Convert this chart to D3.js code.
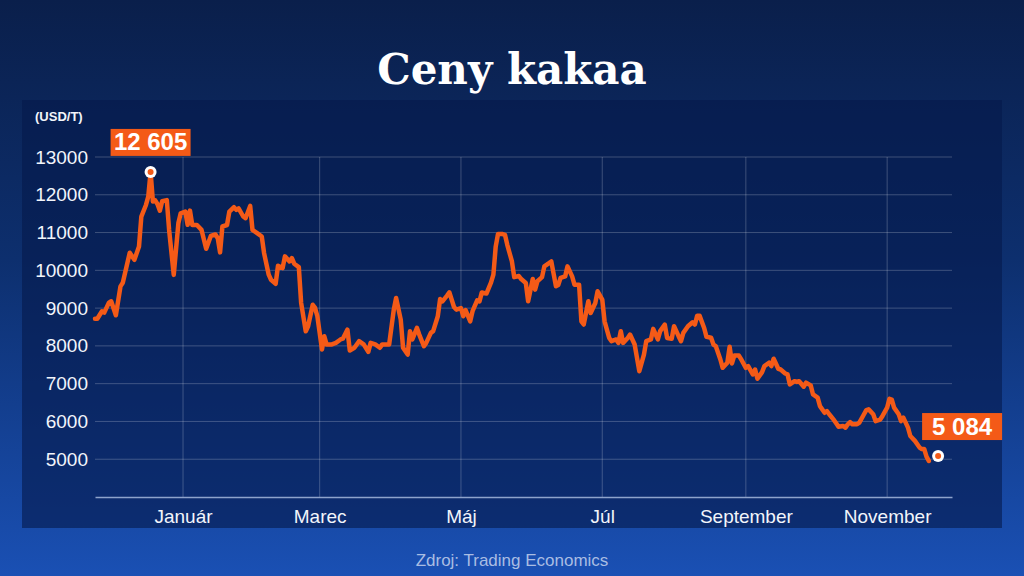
<!DOCTYPE html>
<html>
<head>
<meta charset="utf-8">
<script src="https://cdn.jsdelivr.net/npm/d3@7"></script>
<style>
  html, body { margin: 0; padding: 0; background: #0b2252; }
  svg { display: block; }
</style>
</head>
<body>
<svg id="chart" width="1024" height="576"></svg>
<script>
// cocoa price, USD per tonne
const dates = [
  "2024-11-24","2024-11-25","2024-11-27","2024-11-28","2024-11-30","2024-12-01","2024-12-03","2024-12-05","2024-12-06","2024-12-07",
  "2024-12-09","2024-12-11","2024-12-13","2024-12-14","2024-12-16","2024-12-17","2024-12-18","2024-12-19","2024-12-20","2024-12-21",
  "2024-12-22","2024-12-23","2024-12-25","2024-12-26","2024-12-28","2024-12-30","2024-12-31","2025-01-02","2025-01-03","2025-01-04",
  "2025-01-05","2025-01-07","2025-01-09","2025-01-11","2025-01-13","2025-01-15","2025-01-16","2025-01-17","2025-01-18","2025-01-20",
  "2025-01-21","2025-01-23","2025-01-24","2025-01-25","2025-01-27","2025-01-28","2025-01-30","2025-01-31","2025-02-02","2025-02-04",
  "2025-02-05","2025-02-07","2025-02-08","2025-02-10","2025-02-11","2025-02-13","2025-02-14","2025-02-16","2025-02-17","2025-02-18",
  "2025-02-20","2025-02-21","2025-02-23","2025-02-24","2025-02-26","2025-02-27","2025-02-28","2025-03-02","2025-03-03","2025-03-04",
  "2025-03-06","2025-03-08","2025-03-10","2025-03-11","2025-03-13","2025-03-14","2025-03-16","2025-03-18","2025-03-20","2025-03-22",
  "2025-03-23","2025-03-25","2025-03-27","2025-03-28","2025-03-31","2025-04-02","2025-04-03","2025-04-05","2025-04-06","2025-04-08",
  "2025-04-09","2025-04-10","2025-04-12","2025-04-13","2025-04-15","2025-04-16","2025-04-18","2025-04-19","2025-04-21","2025-04-22",
  "2025-04-23","2025-04-25","2025-04-26","2025-04-28","2025-04-29","2025-05-01","2025-05-02","2025-05-03","2025-05-05","2025-05-06",
  "2025-05-08","2025-05-09","2025-05-10","2025-05-12","2025-05-14","2025-05-15","2025-05-16","2025-05-17","2025-05-19","2025-05-20",
  "2025-05-21","2025-05-23","2025-05-24","2025-05-26","2025-05-27","2025-05-29","2025-05-30","2025-06-01","2025-06-02","2025-06-03",
  "2025-06-05","2025-06-06","2025-06-08","2025-06-09","2025-06-11","2025-06-12","2025-06-13","2025-06-15","2025-06-16","2025-06-18",
  "2025-06-19","2025-06-21","2025-06-22","2025-06-23","2025-06-25","2025-06-26","2025-06-28","2025-06-29","2025-07-01","2025-07-02",
  "2025-07-04","2025-07-05","2025-07-07","2025-07-08","2025-07-09","2025-07-10","2025-07-12","2025-07-13","2025-07-15","2025-07-16",
  "2025-07-17","2025-07-19","2025-07-20","2025-07-22","2025-07-23","2025-07-25","2025-07-26","2025-07-28","2025-07-29","2025-07-31",
  "2025-08-01","2025-08-03","2025-08-04","2025-08-05","2025-08-07","2025-08-09","2025-08-10","2025-08-11","2025-08-12","2025-08-14",
  "2025-08-15","2025-08-17","2025-08-18","2025-08-19","2025-08-21","2025-08-22","2025-08-24","2025-08-25","2025-08-26","2025-08-27",
  "2025-08-29","2025-08-30","2025-09-01","2025-09-02","2025-09-04","2025-09-05","2025-09-06","2025-09-08","2025-09-09","2025-09-11",
  "2025-09-12","2025-09-13","2025-09-15","2025-09-16","2025-09-18","2025-09-19","2025-09-20","2025-09-22","2025-09-23","2025-09-24",
  "2025-09-26","2025-09-27","2025-09-29","2025-09-30","2025-10-02","2025-10-03","2025-10-05","2025-10-06","2025-10-07","2025-10-09",
  "2025-10-10","2025-10-11","2025-10-13","2025-10-14","2025-10-15","2025-10-16","2025-10-17","2025-10-19","2025-10-20","2025-10-22",
  "2025-10-23","2025-10-24","2025-10-26","2025-10-27","2025-10-29","2025-10-30","2025-11-01","2025-11-02","2025-11-03","2025-11-04",
  "2025-11-06","2025-11-07","2025-11-08","2025-11-10","2025-11-11","2025-11-13","2025-11-15","2025-11-16","2025-11-17","2025-11-18",
  "2025-11-19"
];
const prices = [
  8720,8720,8915,8880,9145,9180,8810,9575,9670,9935,
  10465,10280,10630,11420,11730,11950,12605,11820,11850,11750,
  11580,11830,11860,11070,9880,11250,11510,11555,11205,11580,
  11200,11200,11070,10570,10910,10950,10850,10475,11160,11200,
  11555,11670,11600,11640,11425,11380,11705,11070,10985,10895,
  10455,9885,9750,9645,10120,10060,10370,10235,10325,10175,
  10085,9135,8385,8520,9090,9005,8785,7905,8255,8035,
  8035,8080,8170,8190,8430,7880,7950,8125,8040,7840,
  8080,8040,7950,8040,8035,8960,9270,8695,7950,7770,
  8385,8170,8475,8300,7990,8080,8345,8390,8785,9240,
  9180,9330,9415,9030,8960,9000,8785,8945,8650,8920,
  9205,9180,9415,9385,9680,9885,10630,10965,10960,10940,
  10675,10235,9820,9850,9770,9665,9180,9770,9490,9710,
  9820,10105,10190,10235,9580,9610,9800,9840,10105,9840,
  9620,9620,8650,8565,9180,8870,9135,9445,9225,8650,
  8210,8125,8170,8080,8390,8080,8210,8300,8035,7685,
  7330,7770,8125,8170,8450,8170,8390,8565,8210,8190,
  8520,8250,8125,8345,8520,8625,8565,8800,8800,8475,
  8240,8215,8035,7995,7640,7420,7555,7975,7535,7745,
  7745,7640,7420,7465,7245,7375,7130,7305,7465,7555,
  7465,7660,7395,7375,7270,7245,6980,7065,7045,7065,
  6920,7025,6955,6715,6630,6405,6230,6275,6190,6040,
  5950,5860,5880,5835,5925,5985,5925,5925,5970,6190,
  6300,6320,6190,6010,6050,6145,6365,6600,6580,6365,
  6190,6010,6100,5835,5615,5485,5310,5270,5270,5070,
  4955
];

const peakDate = "2024-12-18";
const peakValue = 12605;
const lastDate = "2025-11-23";
const lastValue = 5084;

const yTicks = [5000, 6000, 7000, 8000, 9000, 10000, 11000, 12000, 13000];
const monthTicks = ["2025-01-01", "2025-03-01", "2025-05-01", "2025-07-01", "2025-09-01", "2025-11-01"];
const monthLabels = ["Január", "Marec", "Máj", "Júl", "September", "November"];

const parseDate = d3.timeParse("%Y-%m-%d");
const data = dates.map((d, i) => ({ date: parseDate(d), value: prices[i] }));

const svg = d3.select("#chart");
const W = 1024, H = 576;
const orange = "#f45a17";

// background
const defs = svg.append("defs");
const bg = defs.append("linearGradient")
  .attr("id", "bg").attr("x1", 0).attr("y1", 0).attr("x2", 0).attr("y2", 1);
bg.append("stop").attr("offset", "0%").attr("stop-color", "#0a1f4b");
bg.append("stop").attr("offset", "45%").attr("stop-color", "#0d2f6e");
bg.append("stop").attr("offset", "100%").attr("stop-color", "#1a50b4");

svg.append("rect").attr("width", W).attr("height", H).attr("fill", "url(#bg)");

// chart panel
svg.append("rect")
  .attr("x", 22).attr("y", 100).attr("width", 980).attr("height", 428)
  .attr("fill", "#05194b").attr("opacity", 0.6);

// title
svg.append("text")
  .attr("x", W / 2).attr("y", 84)
  .attr("text-anchor", "middle")
  .attr("font-family", "DejaVu Serif, serif")
  .attr("font-weight", "bold")
  .attr("font-size", 42)
  .attr("fill", "#ffffff")
  .text("Ceny kakaa");

// scales
const x = d3.scaleTime()
  .domain([parseDate("2024-11-24"), parseDate("2025-11-29")])
  .range([95, 952]);

const y = d3.scaleLinear()
  .domain([4000, 13000])
  .range([497, 157]);

// grid
const grid = svg.append("g");
grid.selectAll("line.h")
  .data(yTicks)
  .join("line")
  .attr("class", "h")
  .attr("x1", x.range()[0]).attr("x2", x.range()[1])
  .attr("y1", d => y(d)).attr("y2", d => y(d))
  .attr("stroke", "#ffffff").attr("stroke-opacity", 0.22).attr("stroke-width", 1);

grid.selectAll("line.v")
  .data(monthTicks)
  .join("line")
  .attr("class", "v")
  .attr("x1", d => x(parseDate(d))).attr("x2", d => x(parseDate(d)))
  .attr("y1", y(13000)).attr("y2", y(4000))
  .attr("stroke", "#ffffff").attr("stroke-opacity", 0.22).attr("stroke-width", 1);

// x axis
const xAxis = d3.axisBottom(x)
  .tickValues(monthTicks.map(parseDate))
  .tickFormat((d, i) => monthLabels[i])
  .tickSize(0)
  .tickPadding(9);

const gx = svg.append("g")
  .attr("transform", `translate(0,${y(4000)})`)
  .call(xAxis);
gx.select(".domain").attr("stroke", "#8ea3cc").attr("stroke-width", 1.5);
gx.selectAll("text")
  .attr("font-family", "Liberation Sans, Arial, sans-serif")
  .attr("font-size", 19)
  .attr("fill", "#f2f5fb")
  .attr("dy", "0.9em");

// y axis
const yAxis = d3.axisLeft(y)
  .tickValues(yTicks)
  .tickFormat(d3.format("d"))
  .tickSize(0)
  .tickPadding(7);

const gy = svg.append("g")
  .attr("transform", "translate(95,0)")
  .call(yAxis);
gy.select(".domain").remove();
gy.selectAll("text")
  .attr("font-family", "Liberation Sans, Arial, sans-serif")
  .attr("font-size", 19)
  .attr("fill", "#f2f5fb");

svg.append("text")
  .attr("x", 35).attr("y", 121)
  .attr("font-family", "Liberation Sans, Arial, sans-serif")
  .attr("font-weight", "bold")
  .attr("font-size", 13)
  .attr("fill", "#f2f5fb")
  .text("(USD/T)");

// price line
const line = d3.line()
  .x(d => x(d.date))
  .y(d => y(d.value))
  .curve(d3.curveLinear);

svg.append("path")
  .datum(data)
  .attr("d", line)
  .attr("fill", "none")
  .attr("stroke", orange)
  .attr("stroke-width", 4.5)
  .attr("stroke-linejoin", "round")
  .attr("stroke-linecap", "round");

// callouts
const fmt = d3.formatLocale({ decimal: ",", thousands: " ", grouping: [3], currency: ["", ""] }).format(",d");

const callouts = [
  { date: parseDate(peakDate), value: peakValue, dx: 0 },
  { date: parseDate(lastDate), value: lastValue, dx: 24 }
];

callouts.forEach(c => {
  const cx = x(c.date), cy = y(c.value);
  svg.append("circle").attr("cx", cx).attr("cy", cy).attr("r", 6).attr("fill", "#ffffff");
  svg.append("circle").attr("cx", cx).attr("cy", cy).attr("r", 3).attr("fill", orange);

  const bw = 80, bh = 27;
  const bx = cx + c.dx - bw / 2;
  const by = cy - 16 - bh;
  svg.append("rect")
    .attr("x", bx).attr("y", by).attr("width", bw).attr("height", bh)
    .attr("fill", orange);
  svg.append("text")
    .attr("x", bx + bw / 2).attr("y", by + bh / 2 + 8)
    .attr("text-anchor", "middle")
    .attr("font-family", "Liberation Sans, Arial, sans-serif")
    .attr("font-weight", "bold")
    .attr("font-size", 24)
    .attr("fill", "#ffffff")
    .text(fmt(c.value));
});

// source
svg.append("text")
  .attr("x", W / 2).attr("y", 566)
  .attr("text-anchor", "middle")
  .attr("font-family", "Liberation Sans, Arial, sans-serif")
  .attr("font-size", 17)
  .attr("fill", "#a9bde3")
  .text("Zdroj: Trading Economics");
</script>
</body>
</html>
